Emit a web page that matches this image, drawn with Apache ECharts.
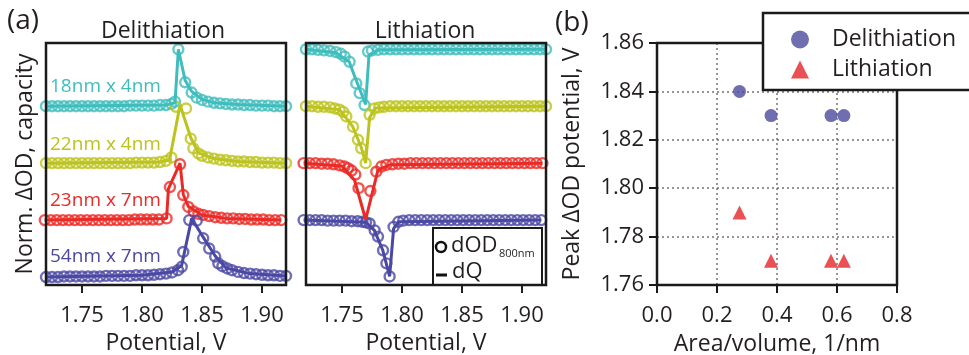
<!DOCTYPE html>
<html>
<head>
<meta charset="utf-8">
<script src="https://cdn.jsdelivr.net/npm/echarts@6/dist/echarts.min.js"></script>
<style>
  html, body { margin: 0; padding: 0; background: #fff; }
  #chart { width: 969px; height: 355px; }
</style>
</head>
<body>
<div id="chart"></div>
<script>
// sample names, colours and vertical offsets of the stacked traces
const sampleNames = ['18nm x 4nm', '22nm x 4nm', '23nm x 7nm', '54nm x 7nm'];
const sampleColors = ['#3fbdbd', '#bcc31c', '#ec2a25', '#4b48a4'];
const delithOffsets = [3, 2, 1, 0];
const lithOffsets = [4, 3, 2, 1];
const potentialTicks = [1.75, 1.80, 1.85, 1.90];

// delithiation: dOD (circles), [potential V, normalised value]
const delithDOD18x4 = [[1.720,0],[1.725,0],[1.730,0],[1.735,0],[1.740,0],[1.745,0],[1.750,0],[1.755,0],[1.760,0],[1.765,0],[1.770,0],[1.775,0],[1.780,0],[1.785,0],[1.790,0.01],[1.795,0.01],[1.800,0.01],[1.805,0.01],[1.810,0.01],[1.815,0.02],[1.820,0.02],[1.8245,0.04],[1.8275,0.08],[1.8303,1.0],[1.836,0.42],[1.8414,0.24],[1.8456,0.15],[1.850,0.11],[1.855,0.08],[1.860,0.06],[1.865,0.05],[1.870,0.04],[1.875,0.03],[1.880,0.03],[1.885,0.02],[1.890,0.02],[1.895,0.01],[1.900,0.01],[1.905,0.01],[1.910,0],[1.915,0],[1.920,0]];
const delithDOD22x4 = [[1.720,0],[1.725,0],[1.730,0],[1.735,0],[1.740,0],[1.745,0],[1.750,0],[1.755,0],[1.760,0],[1.765,0],[1.770,0],[1.775,0],[1.780,0],[1.785,0],[1.790,0],[1.795,0.01],[1.800,0.01],[1.805,0.01],[1.810,0.01],[1.815,0.02],[1.820,0.04],[1.8245,0.1],[1.8283,0.99],[1.8367,0.96],[1.8406,0.43],[1.8428,0.26],[1.8469,0.17],[1.850,0.13],[1.855,0.1],[1.860,0.08],[1.865,0.06],[1.870,0.05],[1.875,0.04],[1.880,0.03],[1.885,0.03],[1.890,0.02],[1.895,0.02],[1.900,0.01],[1.905,0.01],[1.910,0.01],[1.915,0],[1.920,0]];
const delithDOD23x7 = [[1.719,0],[1.724,0],[1.729,0],[1.734,0],[1.739,0],[1.744,0],[1.749,0],[1.754,0],[1.759,0],[1.764,0],[1.769,0],[1.774,0],[1.779,0],[1.784,0],[1.789,0],[1.794,0.01],[1.799,0.01],[1.804,0.01],[1.809,0.01],[1.814,0.01],[1.8205,0.03],[1.8233,0.58],[1.8317,0.98],[1.8344,0.44],[1.8386,0.23],[1.843,0.15],[1.847,0.11],[1.851,0.09],[1.856,0.07],[1.861,0.05],[1.866,0.04],[1.871,0.03],[1.876,0.03],[1.881,0.02],[1.886,0.02],[1.891,0.01],[1.896,0.01],[1.901,0.01],[1.906,0],[1.911,0],[1.916,0]];
const delithDOD54x7 = [[1.720,0],[1.725,0],[1.730,0],[1.735,0.01],[1.740,0.01],[1.745,0.01],[1.750,0.01],[1.755,0.01],[1.760,0.01],[1.765,0.01],[1.770,0.02],[1.775,0.02],[1.780,0.02],[1.785,0.02],[1.790,0.02],[1.795,0.03],[1.800,0.03],[1.805,0.03],[1.810,0.04],[1.815,0.05],[1.820,0.06],[1.825,0.08],[1.830,0.12],[1.8331,0.18],[1.8344,0.44],[1.8394,1.0],[1.8456,0.99],[1.851,0.68],[1.856,0.5],[1.861,0.36],[1.8636,0.24],[1.867,0.19],[1.871,0.15],[1.875,0.12],[1.880,0.09],[1.885,0.07],[1.890,0.06],[1.895,0.05],[1.900,0.04],[1.905,0.03],[1.910,0.03],[1.915,0.02],[1.920,0.02]];

// delithiation: dQ (lines)
const delithDQ18x4 = [[1.720,0],[1.820,0.02],[1.8275,0.06],[1.8303,1.0],[1.836,0.45],[1.8414,0.26],[1.850,0.12],[1.860,0.06],[1.880,0.03],[1.920,0]];
const delithDQ22x4 = [[1.720,0],[1.815,0.02],[1.823,0.06],[1.8317,1.02],[1.8406,0.45],[1.8469,0.18],[1.860,0.08],[1.880,0.03],[1.920,0]];
const delithDQ23x7 = [[1.719,0],[1.8205,0.03],[1.822,0.55],[1.8317,1.0],[1.8344,0.45],[1.8386,0.24],[1.850,0.09],[1.870,0.03],[1.916,0]];
const delithDQ54x7 = [[1.720,0],[1.800,0.03],[1.825,0.09],[1.833,0.2],[1.8414,1.03],[1.851,0.7],[1.861,0.37],[1.870,0.16],[1.890,0.06],[1.920,0.02]];

// lithiation: dOD (circles)
const lithDOD18x4 = [[1.720,0],[1.725,0],[1.730,-0.01],[1.735,-0.02],[1.740,-0.03],[1.745,-0.05],[1.749,-0.08],[1.7522,-0.13],[1.7563,-0.22],[1.7619,-0.6],[1.7647,-0.77],[1.7688,-0.98],[1.7717,-0.04],[1.775,-0.02],[1.780,-0.01],[1.785,0],[1.790,0],[1.795,0],[1.800,0],[1.805,0],[1.810,0],[1.815,0],[1.820,0],[1.825,0],[1.830,0],[1.835,0],[1.840,0],[1.845,0],[1.850,0],[1.855,0],[1.860,0],[1.865,0],[1.870,0],[1.875,0],[1.880,0],[1.885,0],[1.890,0],[1.895,0],[1.900,0],[1.905,0],[1.910,0],[1.915,0],[1.920,0]];
const lithDOD22x4 = [[1.720,0],[1.725,0],[1.730,-0.01],[1.735,-0.01],[1.740,-0.02],[1.744,-0.04],[1.748,-0.06],[1.751,-0.1],[1.7536,-0.18],[1.7592,-0.36],[1.7633,-0.59],[1.766,-0.74],[1.7697,-1.0],[1.773,-0.15],[1.777,-0.04],[1.781,-0.02],[1.785,-0.01],[1.790,0],[1.795,0],[1.800,0],[1.805,0],[1.810,0],[1.815,0],[1.820,0],[1.825,0],[1.830,0],[1.835,0],[1.840,0],[1.845,0],[1.850,0],[1.855,0],[1.860,0],[1.865,0],[1.870,0],[1.875,0],[1.880,0],[1.885,0],[1.890,0],[1.895,0],[1.900,0],[1.905,0],[1.910,0],[1.915,0],[1.920,0]];
const lithDOD23x7 = [[1.718,0],[1.723,0],[1.728,0],[1.733,-0.01],[1.738,-0.01],[1.743,-0.02],[1.748,-0.04],[1.752,-0.06],[1.755,-0.09],[1.758,-0.13],[1.7611,-0.2],[1.7638,-0.44],[1.7736,-0.49],[1.7786,-0.15],[1.7828,-0.06],[1.787,-0.03],[1.792,-0.02],[1.797,-0.01],[1.802,-0.01],[1.807,0],[1.812,0],[1.817,0],[1.822,0],[1.827,0],[1.832,0],[1.837,0],[1.842,0],[1.847,0],[1.852,0],[1.857,0],[1.862,0],[1.867,0],[1.872,0],[1.877,0],[1.882,0],[1.887,0],[1.892,0],[1.897,0],[1.902,0],[1.907,0],[1.912,0],[1.917,0]];
const lithDOD54x7 = [[1.718,0],[1.723,0],[1.728,0],[1.733,0],[1.738,-0.01],[1.743,-0.01],[1.748,-0.01],[1.753,-0.01],[1.758,-0.02],[1.763,-0.02],[1.767,-0.03],[1.770,-0.04],[1.773,-0.06],[1.7772,-0.18],[1.780,-0.29],[1.7842,-0.53],[1.787,-0.76],[1.7897,-0.99],[1.793,-0.12],[1.797,-0.03],[1.801,-0.01],[1.806,0],[1.811,0],[1.816,0],[1.821,0],[1.826,0],[1.831,0],[1.836,0],[1.841,0],[1.846,0],[1.851,0],[1.856,0],[1.861,0],[1.866,0],[1.871,0],[1.876,0],[1.881,0],[1.886,0],[1.891,0],[1.896,0],[1.901,0],[1.906,0],[1.911,0],[1.916,0]];

// lithiation: dQ (lines)
const lithDQ18x4 = [[1.720,0],[1.745,-0.06],[1.756,-0.22],[1.761,-0.5],[1.7697,-0.97],[1.7725,-0.1],[1.780,-0.01],[1.920,0]];
const lithDQ22x4 = [[1.720,0],[1.748,-0.06],[1.759,-0.36],[1.766,-0.72],[1.7697,-1.0],[1.773,-0.2],[1.778,-0.03],[1.920,0]];
const lithDQ23x7 = [[1.718,0],[1.750,-0.05],[1.7605,-0.3],[1.7697,-0.99],[1.780,-0.12],[1.790,-0.03],[1.917,0]];
const lithDQ54x7 = [[1.718,0],[1.770,-0.04],[1.777,-0.18],[1.784,-0.53],[1.7897,-0.99],[1.793,-0.15],[1.797,-0.03],[1.916,0]];

// panel (b): peak dOD potential vs area/volume
const areaVolume = [0.275, 0.38, 0.58, 0.623];
const peakDelith = [1.84, 1.83, 1.83, 1.83];
const peakLith = [1.79, 1.77, 1.77, 1.77];

const delithDOD = [delithDOD18x4, delithDOD22x4, delithDOD23x7, delithDOD54x7];
const delithDQ = [delithDQ18x4, delithDQ22x4, delithDQ23x7, delithDQ54x7];
const lithDOD = [lithDOD18x4, lithDOD22x4, lithDOD23x7, lithDOD54x7];
const lithDQ = [lithDQ18x4, lithDQ22x4, lithDQ23x7, lithDQ54x7];

const FONT = "'Open Sans', 'Liberation Sans', sans-serif";
const INK = '#231f20';

// plot rectangles (layout only)
const panels = [
  { left: 46, top: 43, width: 240, height: 242 },
  { left: 306, top: 43, width: 240, height: 242 },
  { left: 657, top: 43, width: 240, height: 242 }
];

const chart = echarts.init(document.getElementById('chart'), null, { renderer: 'canvas' });

const shift = (pts, off) => pts.map(p => [p[0], p[1] + off]);

const potentialAxis = (gridIndex) => ({
  type: 'value', gridIndex, min: 1.72, max: 1.92,
  name: 'Potential, V', nameLocation: 'middle', nameGap: 44,
  nameTextStyle: { fontFamily: FONT, fontSize: 23, color: INK },
  axisLine: { show: false, onZero: false },
  axisTick: { show: true, length: 8, customValues: potentialTicks, lineStyle: { color: INK, width: 2 } },
  axisLabel: { margin: 20, customValues: potentialTicks, fontFamily: FONT, fontSize: 22, color: INK,
    formatter: v => v.toFixed(2) },
  splitLine: { show: false }
});

const stackAxis = (gridIndex, name) => ({
  type: 'value', gridIndex, min: -0.14, max: 4.11,
  name: name, nameLocation: 'middle', nameGap: 9,
  nameTextStyle: { fontFamily: FONT, fontSize: 23, color: INK },
  axisLine: { show: false, onZero: false }, axisTick: { show: false }, axisLabel: { show: false },
  splitLine: { show: false }
});

const series = [];
sampleNames.forEach((name, i) => {
  const c = sampleColors[i];
  const lineStyle = { color: c, width: 3 };
  const ring = { color: 'rgba(255,255,255,0)', borderColor: c, borderWidth: 2.4 };
  series.push({ name: 'dQ ' + name, type: 'line', xAxisIndex: 0, yAxisIndex: 0,
    data: shift(delithDQ[i], delithOffsets[i]), symbol: 'none', lineStyle, silent: true });
  series.push({ name: 'dOD ' + name, type: 'scatter', xAxisIndex: 0, yAxisIndex: 0, clip: false,
    data: shift(delithDOD[i], delithOffsets[i]), symbol: 'circle', symbolSize: 10, itemStyle: ring });
  series.push({ name: 'dQ li ' + name, type: 'line', xAxisIndex: 1, yAxisIndex: 1,
    data: shift(lithDQ[i], lithOffsets[i]), symbol: 'none', lineStyle, silent: true });
  series.push({ name: 'dOD li ' + name, type: 'scatter', xAxisIndex: 1, yAxisIndex: 1, clip: false,
    data: shift(lithDOD[i], lithOffsets[i]), symbol: 'circle', symbolSize: 10, itemStyle: ring });
});

series.push({ name: 'Delithiation', type: 'scatter', xAxisIndex: 2, yAxisIndex: 2, symbol: 'circle', symbolSize: 13,
  data: areaVolume.map((x, i) => [x, peakDelith[i]]), itemStyle: { color: '#4a4a9e' }, z: 5 });
series.push({ name: 'Lithiation', type: 'scatter', xAxisIndex: 2, yAxisIndex: 2, symbol: 'triangle', symbolSize: 14,
  data: areaVolume.map((x, i) => [x, peakLith[i]]), itemStyle: { color: '#e5262a' }, z: 5 });

const labelY = [87, 145, 201, 257];

const option = {
  backgroundColor: '#ffffff',
  animation: false,
  grid: panels.map(p => Object.assign({ show: false, containLabel: false, outerBoundsMode: 'none' }, p)),
  xAxis: [
    potentialAxis(0),
    potentialAxis(1),
    {
      type: 'value', gridIndex: 2, min: 0, max: 0.8, interval: 0.2,
      name: 'Area/volume, 1/nm', nameLocation: 'middle', nameGap: 48,
      nameTextStyle: { fontFamily: FONT, fontSize: 23, color: INK },
      axisLine: { show: false, onZero: false },
      axisTick: { show: true, length: 8, lineStyle: { color: '#1a1a1a', width: 2 } },
      axisLabel: { margin: 20, fontFamily: FONT, fontSize: 22, color: INK, formatter: v => v.toFixed(1) },
      splitLine: { show: true, lineStyle: { color: '#7a7272', width: 1.5, type: [2, 3] } }
    }
  ],
  yAxis: [
    stackAxis(0, 'Norm. \u0394OD, capacity'),
    stackAxis(1, ''),
    {
      type: 'value', gridIndex: 2, min: 1.76, max: 1.86, interval: 0.02,
      name: 'Peak \u0394OD potential, V', nameLocation: 'middle', nameGap: 73,
      nameTextStyle: { fontFamily: FONT, fontSize: 23, color: INK },
      axisLine: { show: false, onZero: false },
      axisTick: { show: true, length: 8, lineStyle: { color: '#1a1a1a', width: 2 } },
      axisLabel: { margin: 13, fontFamily: FONT, fontSize: 22, color: INK, formatter: v => v.toFixed(2) },
      splitLine: { show: true, lineStyle: { color: '#7a7272', width: 1.5, type: [2, 3] } }
    }
  ],
  legend: {
    data: ['Delithiation', 'Lithiation'],
    orient: 'vertical', left: 763, top: 13, z: 6,
    padding: [15, 10, 9, 28],
    itemWidth: 18, itemHeight: 18, itemGap: 7,
    borderWidth: 0, backgroundColor: 'transparent',
    textStyle: { fontFamily: FONT, fontSize: 23, color: INK, lineHeight: 18, padding: [0, 0, 0, 18] },
    selectedMode: false
  },
  graphic: panels.map(p => ({
    // panel frames
    type: 'rect', z: 4, silent: true,
    shape: { x: p.left, y: p.top, width: p.width, height: p.height },
    style: { fill: null, stroke: '#1a1a1a', lineWidth: 2.5 }
  })).concat([
    // legend frame of panel (b), running off the right edge as in the source figure
    { type: 'rect', z: 5, shape: { x: 763, y: 13, width: 260, height: 77 },
      style: { fill: '#ffffff', stroke: '#1a1a1a', lineWidth: 2.5 } },
    { type: 'text', left: 7, top: 7, style: { text: '(a)', font: '28px ' + FONT, fill: INK } },
    { type: 'text', left: 555, top: 9, style: { text: '(b)', font: '28px ' + FONT, fill: INK } },
    { type: 'text', x: 163, y: 31, style: { text: 'Delithiation', font: '23px ' + FONT, fill: INK, align: 'center', verticalAlign: 'middle' } },
    { type: 'text', x: 425, y: 31, style: { text: 'Lithiation', font: '23px ' + FONT, fill: INK, align: 'center', verticalAlign: 'middle' } }
  ]).concat(sampleNames.map((name, i) => ({
    type: 'text', x: 50, y: labelY[i], z: 10,
    style: { text: name, font: '19px ' + FONT, fill: sampleColors[i], verticalAlign: 'middle' }
  }))).concat([
    {
      type: 'group', z: 20,
      children: [
        { type: 'rect', shape: { x: 433, y: 228, width: 109, height: 57 }, style: { fill: '#fff', stroke: '#1a1a1a', lineWidth: 2 } },
        { type: 'circle', shape: { cx: 441, cy: 247, r: 5 }, style: { fill: 'none', stroke: '#111', lineWidth: 2.5 } },
        { type: 'text', x: 451, y: 246, style: { text: 'dOD', font: '22px ' + FONT, fill: INK, verticalAlign: 'middle' } },
        { type: 'text', x: 499, y: 254, style: { text: '800nm', font: '11px ' + FONT, fill: INK, verticalAlign: 'middle' } },
        { type: 'line', shape: { x1: 436, y1: 275, x2: 447, y2: 275 }, style: { stroke: '#111', lineWidth: 3 } },
        { type: 'text', x: 452, y: 272, style: { text: 'dQ', font: '22px ' + FONT, fill: INK, verticalAlign: 'middle' } }
      ]
    }
  ]),
  series
};

chart.setOption(option);
</script>
</body>
</html>
